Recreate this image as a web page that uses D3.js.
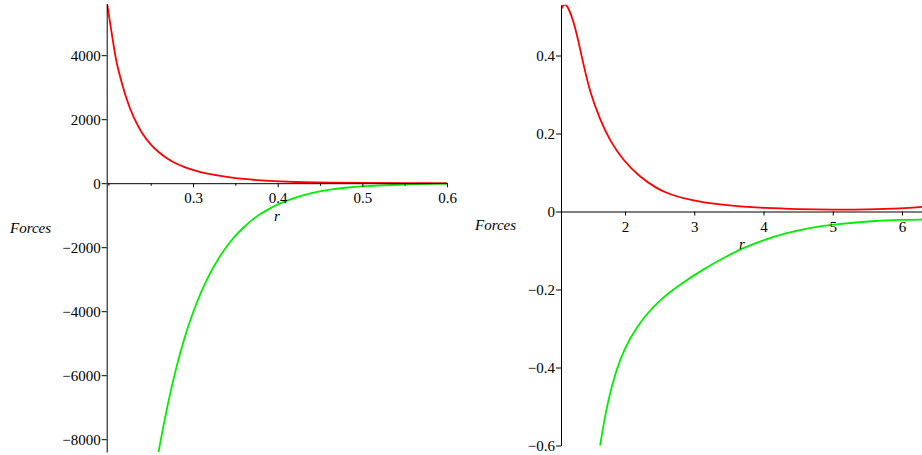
<!DOCTYPE html>
<html>
<head>
<meta charset="utf-8">
<script src="https://cdn.jsdelivr.net/npm/d3@7"></script>
<style>
  body { margin: 0; background: #fff; }
  svg { display: block; }
  svg text { font-family: 'Liberation Serif', 'Times New Roman', serif; }
</style>
</head>
<body>
<div id="chart"></div>
<script>
// left panel data (r, force)
const leftRedR = [0.198, 0.2079, 0.21, 0.22, 0.23, 0.24, 0.25, 0.26, 0.27, 0.28, 0.29, 0.30, 0.31, 0.32, 0.34, 0.36, 0.38, 0.40, 0.43, 0.46, 0.50, 0.55, 0.60];
const leftRedF = [5700, 4000, 3710, 2700, 2020, 1540, 1200, 950, 760, 610, 500, 410, 340, 282, 195, 130, 87, 55, 28, 14, 6, 2, 0.5];
const leftGreenR = [0.255, 0.26, 0.27, 0.28, 0.29, 0.30, 0.31, 0.32, 0.33, 0.34, 0.35, 0.36, 0.37, 0.38, 0.39, 0.40, 0.42, 0.44, 0.46, 0.48, 0.50, 0.55, 0.60];
const leftGreenF = [-9050, -8270, -6900, -5760, -4810, -4020, -3360, -2810, -2350, -1960, -1640, -1370, -1140, -950, -800, -660, -450, -305, -206, -138, -93, -34, -12];

// right panel data
const rightRedR = [1.08, 1.10, 1.134, 1.18, 1.253, 1.326, 1.398, 1.495, 1.639, 1.783, 1.975, 2.217, 2.458, 2.65, 3.0, 3.3, 3.66, 4.0, 4.5, 5.0, 5.5, 6.0, 6.3];
const rightRedF = [0.52, 0.527, 0.533, 0.524, 0.49, 0.438, 0.379, 0.305, 0.236, 0.181, 0.131, 0.088, 0.059, 0.043, 0.027, 0.019, 0.013, 0.009, 0.006, 0.0045, 0.005, 0.0075, 0.012];
const rightGreenR = [1.639, 1.711, 1.808, 1.928, 2.072, 2.264, 2.505, 2.794, 3.13, 3.469, 3.66, 4.0, 4.33, 4.7, 5.0, 5.59, 6.0, 6.3];
const rightGreenF = [-0.602, -0.523, -0.446, -0.378, -0.324, -0.272, -0.226, -0.187, -0.148, -0.115, -0.097, -0.073, -0.055, -0.041, -0.033, -0.024, -0.021, -0.0205];

// ticks
const leftXTicks = [0.3, 0.4, 0.5, 0.6];
const leftXMinor = [0.2, 0.25, 0.35, 0.45, 0.55];
const leftYTicks = [4000, 2000, 0, -2000, -4000, -6000, -8000];
const rightXTicks = [2, 3, 4, 5, 6];
const rightYTicks = [0.4, 0.2, 0, -0.2, -0.4, -0.6];

const width = 922, height = 455;

const svg = d3.select("#chart").append("svg")
    .attr("width", width)
    .attr("height", height);

function fmt(d) {
    var s = String(Math.abs(d));
    return d < 0 ? "\u2212" + s : s;
}

function panel(id, o) {
    const x = d3.scaleLinear().domain(o.xDomain).range(o.xRange);
    const y = d3.scaleLinear().domain(o.yDomain).range(o.yRange);

    svg.append("clipPath").attr("id", id)
        .append("rect")
        .attr("x", o.xRange[0])
        .attr("y", o.yRange[1])
        .attr("width", o.xRange[1] - o.xRange[0])
        .attr("height", o.yRange[0] - o.yRange[1]);

    const line = d3.line()
        .x(d => x(d[0]))
        .y(d => y(d[1]))
        .curve(d3.curveBasis);

    const g = svg.append("g");

    // curves
    [[o.redR, o.redF, "#ff0000"], [o.greenR, o.greenF, "#00ee00"]].forEach(function (s) {
        g.append("path")
            .datum(d3.zip(s[0], s[1]))
            .attr("clip-path", "url(#" + id + ")")
            .attr("fill", "none")
            .attr("stroke", s[2])
            .attr("stroke-width", 1.8)
            .attr("d", line);
    });

    // x axis at y = 0
    g.append("g")
        .attr("transform", `translate(0,${y(0)})`)
        .call(d3.axisBottom(x).tickValues(o.xTicks).tickFormat(fmt)
            .tickSize(4).tickSizeOuter(0).tickPadding(5.4));
    if (o.xMinor) {
        g.append("g")
            .attr("transform", `translate(0,${y(0)})`)
            .call(d3.axisBottom(x).tickValues(o.xMinor).tickFormat("")
                .tickSize(2.5).tickSizeOuter(0))
            .select(".domain").remove();
    }

    // y axis at left edge
    g.append("g")
        .attr("transform", `translate(${o.xRange[0]},0)`)
        .call(d3.axisLeft(y).tickValues(o.yTicks).tickFormat(fmt)
            .tickSize(5).tickSizeOuter(0).tickPadding(1));

    g.selectAll("g").attr("font-family", null).attr("font-size", null);
    g.selectAll(".tick text")
        .style("font-size", "15px")
        .attr("fill", "#000");
    g.selectAll(".domain, .tick line").attr("stroke", "#000");

    // labels
    g.append("text")
        .attr("x", o.forcesX)
        .attr("y", o.forcesY)
        .style("font-style", "italic")
        .style("font-size", "15px")
        .text("Forces");
    g.append("text")
        .attr("x", o.rX)
        .attr("y", o.rY)
        .attr("text-anchor", "middle")
        .style("font-style", "italic")
        .style("font-size", "15px")
        .text("r");
}

panel("clipL", {
    xDomain: [0.198, 0.6], xRange: [106.7, 447],
    yDomain: [-8400, 5600], yRange: [452, 4],
    redR: leftRedR, redF: leftRedF, greenR: leftGreenR, greenF: leftGreenF,
    xTicks: leftXTicks, xMinor: leftXMinor, yTicks: leftYTicks,
    forcesX: 10, forcesY: 233, rX: 277, rY: 221
});

panel("clipR", {
    xDomain: [1.076, 6.3], xRange: [561, 922.8],
    yDomain: [-0.6, 0.53], yRange: [445.5, 4.8],
    redR: rightRedR, redF: rightRedF, greenR: rightGreenR, greenF: rightGreenF,
    xTicks: rightXTicks, xMinor: null, yTicks: rightYTicks,
    forcesX: 475, forcesY: 230, rX: 742, rY: 249
});
</script>
</body>
</html>
